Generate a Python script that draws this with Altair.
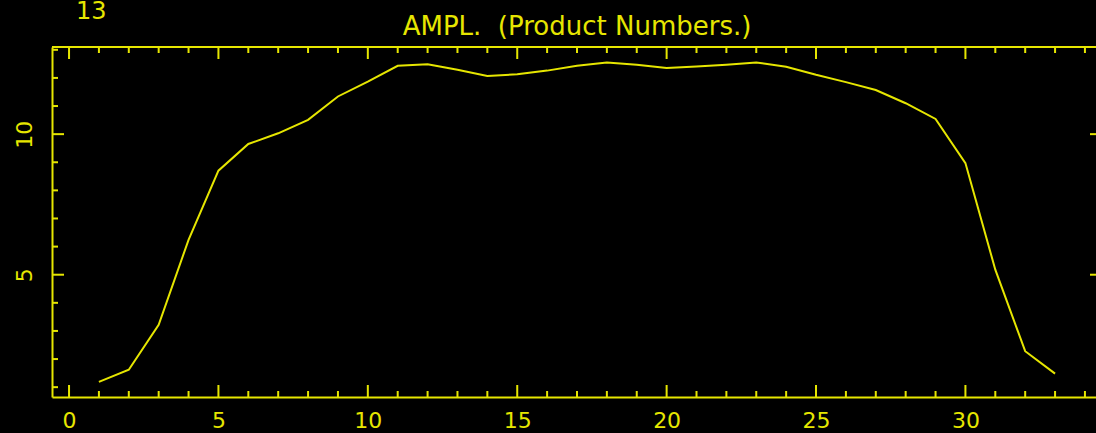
import altair as alt
import pandas as pd

# data
xs = list(range(1, 34))
amps = [1.19, 1.62, 3.22, 6.24, 8.70, 9.65, 10.03, 10.51, 11.34, 11.87, 12.43,
        12.49, 12.29, 12.07, 12.13, 12.26, 12.43, 12.55, 12.47, 12.35, 12.41,
        12.47, 12.55, 12.40, 12.11, 11.85, 11.57, 11.10, 10.54, 8.97, 5.18,
        2.28, 1.48]

x_ticks = list(range(0, 35))
x_labels = [0, 5, 10, 15, 20, 25, 30]
y_ticks = list(range(1, 14))
y_labels = [5, 10]
right_ticks = [5, 10]

title_text = "AMPL.\u00a0 (Product Numbers.)"
corner_text = "13"

YEL = "#e6e600"
FONT = "DejaVu Sans"
W, H = 1044, 350
XDOM = [-0.57, 34.37]
YDOM = [0.65, 13.10]

df = pd.DataFrame({"x": xs, "y": amps})
xt = pd.DataFrame({"x": x_ticks, "major": [v % 5 == 0 for v in x_ticks]})
yt = pd.DataFrame({"y": y_ticks, "major": [v % 5 == 0 for v in y_ticks]})
rt = pd.DataFrame({"y": right_ticks})

xscale = alt.Scale(domain=XDOM, nice=False, zero=False)
yscale = alt.Scale(domain=YDOM, nice=False, zero=False)

x_axis = alt.Axis(values=x_labels, ticks=False, grid=False, domain=True,
                  domainColor=YEL, domainWidth=2, labelColor=YEL,
                  labelFont=FONT, labelFontSize=22, labelPadding=13,
                  labelFlush=False, title=None)
y_axis = alt.Axis(values=y_labels, ticks=False, grid=False, domain=True,
                  domainColor=YEL, domainWidth=2, labelColor=YEL,
                  labelFont=FONT, labelFontSize=22, labelAngle=270,
                  labelAlign="center", labelBaseline="bottom",
                  labelPadding=16, labelFlush=False, title=None)

X = lambda f: alt.X(f, scale=xscale, axis=x_axis)
Y = lambda f: alt.Y(f, scale=yscale, axis=y_axis)

line = alt.Chart(df).mark_line(color=YEL, strokeWidth=2).encode(
    x=X("x:Q"), y=Y("y:Q"))

# top frame line
top_frame = alt.Chart(df).mark_rule(color=YEL, strokeWidth=2).encode(
    x=alt.value(0), x2=alt.value(W), y=alt.value(0))

# inward ticks along the frame lines
bot_major = alt.Chart(xt).transform_filter("datum.major").mark_rule(
    color=YEL, strokeWidth=2).encode(
    x=X("x:Q"), y=alt.value(H), y2=alt.value(H - 12))
bot_minor = alt.Chart(xt).transform_filter("!datum.major").mark_rule(
    color=YEL, strokeWidth=2).encode(
    x=X("x:Q"), y=alt.value(H), y2=alt.value(H - 6))
top_major = alt.Chart(xt).transform_filter("datum.major").mark_rule(
    color=YEL, strokeWidth=2).encode(
    x=X("x:Q"), y=alt.value(0), y2=alt.value(12))
top_minor = alt.Chart(xt).transform_filter("!datum.major").mark_rule(
    color=YEL, strokeWidth=2).encode(
    x=X("x:Q"), y=alt.value(0), y2=alt.value(6))
left_major = alt.Chart(yt).transform_filter("datum.major").mark_rule(
    color=YEL, strokeWidth=2).encode(
    y=Y("y:Q"), x=alt.value(0), x2=alt.value(12))
left_minor = alt.Chart(yt).transform_filter("!datum.major").mark_rule(
    color=YEL, strokeWidth=2).encode(
    y=Y("y:Q"), x=alt.value(0), x2=alt.value(6))
right_major = alt.Chart(rt).mark_rule(color=YEL, strokeWidth=2).encode(
    y=Y("y:Q"), x=alt.value(W - 6), x2=alt.value(W))

title = alt.Chart(pd.DataFrame({"t": [title_text]})).mark_text(
    color=YEL, font=FONT, fontSize=26, align="center", baseline="bottom"
).encode(text="t:N", x=alt.value(W / 2 + 3), y=alt.value(-7))

corner = alt.Chart(pd.DataFrame({"t": [corner_text]})).mark_text(
    color=YEL, font=FONT, fontSize=24, align="left", baseline="alphabetic"
).encode(text="t:N", x=alt.value(24), y=alt.value(-28))

chart = alt.layer(
    line, top_frame, bot_major, bot_minor, top_major, top_minor,
    left_major, left_minor, right_major, title, corner
).properties(
    width=W, height=H,
    background="black",
    autosize=alt.AutoSizeParams(type="none"),
    padding={"left": 52, "top": 47, "right": 0, "bottom": 36},
).configure_view(stroke=None)

chart.save("out.html", embed_options={"renderer": "svg", "actions": False})
